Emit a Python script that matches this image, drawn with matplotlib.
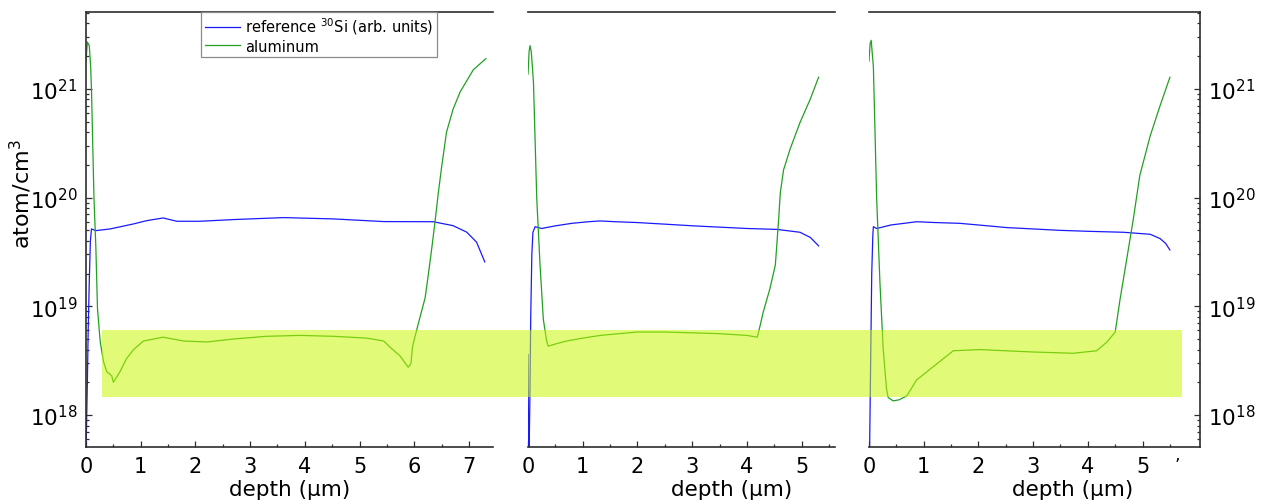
import matplotlib
matplotlib.use('Agg')
import matplotlib.pyplot as plt
from matplotlib.ticker import LogLocator, NullFormatter, FixedLocator
from matplotlib.transforms import blended_transform_factory
from matplotlib.patches import Rectangle

plt.rcParams['font.family'] = ['DejaVu Sans']
plt.rcParams['mathtext.fontset'] = 'dejavusans'

# ---------------- data (depth in um, concentration in atom/cm3) ----------------
p1_si_x = [0.0, 0.01, 0.025, 0.04, 0.06, 0.08, 0.10, 0.18, 0.44, 0.87, 1.11, 1.41, 1.66, 2.08,
           2.69, 3.61, 4.52, 5.44, 6.35, 6.71, 6.96, 7.14, 7.29]
p1_si_y = [4.5e17, 8e17, 2e18, 6e18, 1.7e19, 4e19, 5.15e19, 4.97e19, 5.15e19, 5.73e19, 6.14e19,
           6.50e19, 6.06e19, 6.06e19, 6.28e19, 6.55e19, 6.37e19, 6.02e19, 6.0e19, 5.52e19,
           4.81e19, 3.89e19, 2.56e19]
p1_al_x = [0.0, 0.025, 0.06, 0.085, 0.10, 0.146, 0.18, 0.21, 0.26, 0.32, 0.38, 0.47, 0.50,
           0.62, 0.74, 0.87, 1.05, 1.41, 1.78, 2.21, 2.69, 3.30, 3.91, 4.52, 5.13, 5.44, 5.56,
           5.74, 5.89, 5.94, 5.97, 6.08, 6.20, 6.26, 6.32, 6.38, 6.44, 6.50, 6.59, 6.71, 6.84,
           7.08, 7.31]
p1_al_y = [1.8e21, 2.7e21, 2.5e21, 1.6e21, 1.0e21, 9.8e19, 3.5e19, 9.5e18, 4.7e18, 3.1e18,
           2.5e18, 2.3e18, 2.0e18, 2.5e18, 3.3e18, 4.0e18, 4.8e18, 5.2e18, 4.8e18, 4.7e18,
           5.0e18, 5.3e18, 5.4e18, 5.3e18, 5.1e18, 4.8e18, 4.2e18, 3.5e18, 2.75e18, 2.97e18,
           4.3e18, 7.1e18, 1.2e19, 2.0e19, 3.4e19, 6.0e19, 1.1e20, 1.9e20, 4.0e20, 6.5e20,
           9.4e20, 1.5e21, 1.9e21]

p2_si_x = [0.0, 0.005, 0.012, 0.02, 0.035, 0.05, 0.07, 0.09, 0.13, 0.25, 0.5, 0.8, 1.1, 1.32,
           1.6, 1.99, 2.5, 3.02, 3.5, 4.0, 4.55, 4.97, 5.16, 5.31]
p2_si_y = [3.6e18, 1.5e18, 4.5e17, 4.5e17, 1.5e18, 8e18, 3e19, 4.8e19, 5.4e19, 5.2e19, 5.5e19,
           5.8e19, 6.0e19, 6.1e19, 6.0e19, 5.9e19, 5.7e19, 5.5e19, 5.35e19, 5.2e19, 5.1e19,
           4.8e19, 4.3e19, 3.6e19]
p2_al_x = [0.0, 0.02, 0.037, 0.06, 0.10, 0.16, 0.22, 0.28, 0.34, 0.37, 0.5, 0.71, 1.0, 1.32,
           1.99, 2.5, 3.02, 3.5, 4.0, 4.19, 4.24, 4.30, 4.42, 4.52, 4.58, 4.61, 4.67, 4.79,
           4.97, 5.16, 5.31]
p2_al_y = [1.37e21, 2.2e21, 2.5e21, 2.2e21, 1.15e21, 9.8e19, 2.4e19, 7.6e18, 4.8e18, 4.3e18,
           4.5e18, 4.8e18, 5.1e18, 5.4e18, 5.8e18, 5.8e18, 5.7e18, 5.6e18, 5.4e18, 5.2e18,
           6.6e18, 8.9e18, 1.45e19, 2.4e19, 6.3e19, 1.1e20, 1.8e20, 2.8e20, 4.9e20, 8.1e20,
           1.28e21]

p3_si_x = [0.0, 0.01, 0.03, 0.05, 0.07, 0.08, 0.14, 0.4, 0.87, 1.2, 1.66, 2.0, 2.52, 3.0, 3.49,
           4.0, 4.65, 5.14, 5.32, 5.42, 5.50]
p3_si_y = [4.5e17, 4.5e17, 3e18, 2e19, 4.5e19, 5.4e19, 5.2e19, 5.6e19, 6.0e19, 5.9e19, 5.8e19,
           5.6e19, 5.3e19, 5.15e19, 5.0e19, 4.9e19, 4.8e19, 4.6e19, 4.2e19, 3.8e19, 3.3e19]
p3_al_x = [0.0, 0.02, 0.04, 0.08, 0.14, 0.20, 0.26, 0.32, 0.35, 0.44, 0.55, 0.69, 0.87, 1.18,
           1.54, 2.03, 2.5, 3.0, 3.73, 4.16, 4.35, 4.50, 4.59, 4.71, 4.83, 4.95, 5.14, 5.32, 5.50]
p3_al_y = [1.8e21, 2.6e21, 2.8e21, 1.6e21, 9.8e19, 1.65e19, 4.0e18, 1.74e18, 1.45e18, 1.35e18,
           1.38e18, 1.5e18, 2.1e18, 2.8e18, 3.9e18, 4.0e18, 3.9e18, 3.8e18, 3.7e18, 3.9e18,
           4.7e18, 5.8e18, 1.17e19, 2.7e19, 6.3e19, 1.6e20, 3.7e20, 7.0e20, 1.28e21]

x_limits = [7.44, 5.61, 6.05]
x_major_ticks = [[0, 1, 2, 3, 4, 5, 6, 7], [0, 1, 2, 3, 4, 5], [0, 1, 2, 3, 4, 5]]
x_minor_ticks = [[0.5, 1.5, 2.5, 3.5, 4.5, 5.5, 6.5], [0.5, 1.5, 2.5, 3.5, 4.5, 5.5],
                 [0.5, 1.5, 2.5, 3.5, 4.5, 5.5]]
y_limits = (5.08e17, 5.1e21)

band_low, band_high = 1.47e18, 6.0e18
band_x_start_p1, band_x_end_p3 = 0.29, 5.72

label_si = 'reference $^{30}$Si (arb. units)'
label_al = 'aluminum'
x_label = 'depth (µm)'
y_label = 'atom/cm$^3$'

# ---------------- figure ----------------
W, H = 1261, 502
fig = plt.figure(figsize=(W / 100, H / 100), dpi=100)


def add(l, r):
    return fig.add_axes([l / W, (H - 448) / H, (r - l) / W, 435 / H])


axes = [add(86, 493), add(528, 835), add(869, 1200)]
ax1, ax2, ax3 = axes

blue = '#1a1aff'
green = '#22a022'
spine_c = '#2e2e2e'

data = [(p1_si_x, p1_si_y, p1_al_x, p1_al_y),
        (p2_si_x, p2_si_y, p2_al_x, p2_al_y),
        (p3_si_x, p3_si_y, p3_al_x, p3_al_y)]

for i, ax in enumerate(axes):
    sx, sy, ax_, ay = data[i]
    ax.set_facecolor('none')
    ax.plot(sx, sy, color=blue, lw=0.9, label=label_si)
    ax.plot(ax_, ay, color=green, lw=0.9, label=label_al)
    ax.set_yscale('log')
    ax.set_ylim(*y_limits)
    ax.set_xlim(0, x_limits[i])
    ax.xaxis.set_major_locator(FixedLocator(x_major_ticks[i]))
    ax.xaxis.set_minor_locator(FixedLocator(x_minor_ticks[i]))
    ax.yaxis.set_major_locator(LogLocator(base=10))
    ax.yaxis.set_minor_locator(LogLocator(base=10, subs=range(2, 10), numticks=50))
    ax.yaxis.set_minor_formatter(NullFormatter())
    for s in ax.spines.values():
        s.set_color(spine_c)
        s.set_linewidth(1.2)
    ax.tick_params(axis='both', which='both', direction='in', color=spine_c, width=0.9,
                   top=False)
    ax.tick_params(axis='both', which='major', length=4.5)
    ax.tick_params(axis='both', which='minor', length=2.4)
    ax.tick_params(axis='x', labelsize=15, pad=6.5, labelcolor='black')
    ax.tick_params(axis='y', labelsize=15.5, pad=6)
    ax.set_xlabel(x_label, fontsize=15.5)
    ax.xaxis.set_label_coords(3.72, -0.073,
                              transform=blended_transform_factory(ax.transData, ax.transAxes))

ax1.spines['right'].set_visible(False)
ax1.tick_params(axis='y', which='both', left=True, right=False, labelleft=True)
ax2.spines['right'].set_visible(False)
ax2.spines['left'].set_visible(False)
ax2.tick_params(axis='y', which='both', left=False, right=False, labelleft=False)
ax3.spines['left'].set_visible(False)
ax3.tick_params(axis='y', which='both', left=False, right=True, labelleft=False,
                labelright=True)

ax1.set_ylabel(y_label, fontsize=16)
ax1.yaxis.set_label_coords(-0.128, 0.584)

leg = ax1.legend(loc='upper left', bbox_to_anchor=(0.2826, 1.0), borderaxespad=0,
                 fontsize=10.5, fancybox=False, edgecolor='#8a8a8a', framealpha=1,
                 handlelength=2.4, handletextpad=0.35, borderpad=0.25, labelspacing=0.15)
leg.get_frame().set_linewidth(0.9)

# small stray mark below the third panel
ax3.text(5.63, -0.02, '\u2019', transform=blended_transform_factory(ax3.transData, ax3.transAxes),
         fontsize=12, ha='center', va='top')

# highlight band spanning all panels
to_fig = fig.transFigure.inverted()
x0 = to_fig.transform(ax1.transData.transform((band_x_start_p1, band_low)))[0]
x1 = to_fig.transform(ax3.transData.transform((band_x_end_p3, band_low)))[0]
band = Rectangle((x0, band_low), x1 - x0, band_high - band_low,
                 transform=blended_transform_factory(fig.transFigure, ax1.transData),
                 facecolor='#c8f800', alpha=0.53, edgecolor='none', zorder=5)
fig.add_artist(band)

fig.savefig('out.png', dpi=100)
